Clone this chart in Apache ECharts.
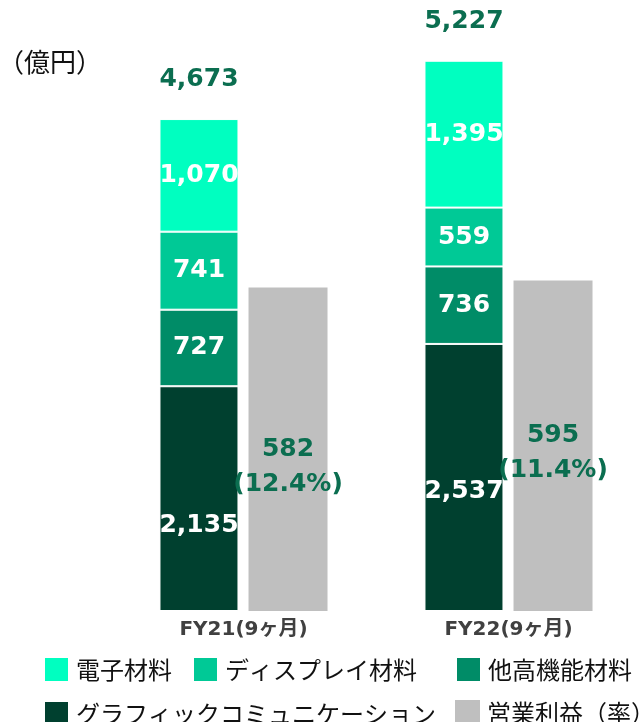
<!DOCTYPE html>
<html>
<head>
<meta charset="utf-8">
<script src="https://cdn.jsdelivr.net/npm/echarts@6/dist/echarts.min.js"></script>
<style>html,body{margin:0;padding:0;background:#fff}#c{width:641px;height:722px}</style>
</head>
<body>
<div id="c"></div>
<script>
const categories = ['FY21(9ヶ月)', 'FY22(9ヶ月)'];
const electronic = [1070, 1395];
const display = [741, 559];
const otherFunctional = [727, 736];
const graphic = [2135, 2537];
const totals = [4673, 5227];
const operatingProfit = [582, 595];
const profitRate = ['12.4%', '11.4%'];

const numFont = 'DejaVu Sans, Verdana, sans-serif';
const jpFont = 'Noto Sans CJK JP, sans-serif';
const green = '#0B6E50';
const fmt = v => v.toLocaleString('en-US');

function stackSeries(name, values, color, offsets) {
  return {
    name: name, type: 'bar', stack: 'sales', yAxisIndex: 0,
    barWidth: 79,
    itemStyle: { color: color, borderColor: '#fff', borderWidth: 1 },
    label: {
      show: true, position: 'inside', color: '#fff', fontFamily: numFont,
      fontWeight: 'bold', fontSize: 25, formatter: p => fmt(p.value)
    },
    data: values.map((v, i) => ({ value: v, label: { offset: [0, offsets ? offsets[i] : 0] } }))
  };
}

function legendRow(left, top, names, gap) {
  return {
    left: left, top: top, padding: 0, itemWidth: 25, itemHeight: 25, itemGap: gap || 10, icon: 'rect',
    textStyle: { fontFamily: jpFont, fontSize: 24, color: '#111', padding: [0, 0, 0, 2] },
    data: names
  };
}

const chart = echarts.init(document.getElementById('c'), null, { renderer: 'canvas' });
chart.setOption({
  animation: false,
  grid: { left: 111, width: 534, top: 32, bottom: 111 },
  xAxis: {
    type: 'category', data: categories,
    axisLine: { show: false }, axisTick: { show: false },
    axisLabel: { margin: 9, color: '#404040', fontFamily: numFont + ',' + jpFont, fontWeight: 'bold', fontSize: 20 }
  },
  yAxis: [
    { type: 'value', min: 0, max: 5500, show: false, splitLine: { show: false } },
    { type: 'value', min: 0, max: 1042, show: false, splitLine: { show: false } }
  ],
  legend: [
    legendRow(43, 656, ['電子材料', 'ディスプレイ材料'], 20),
    legendRow(455, 656, ['他高機能材料']),
    legendRow(43, 700, ['グラフィックコミュニケーション']),
    legendRow(455, 700, ['営業利益（率）'])
  ],
  graphic: [
    { type: 'text', left: -2, top: 49, style: { text: '（億円）', font: '26px ' + jpFont, fill: '#111' } }
  ],
  series: [
    stackSeries('グラフィックコミュニケーション', graphic, '#00402F', [27, 14]),
    stackSeries('他高機能材料', otherFunctional, '#008C67'),
    stackSeries('ディスプレイ材料', display, '#00C996'),
    stackSeries('電子材料', electronic, '#00FFC0'),
    {
      name: 'total', type: 'bar', stack: 'sales', yAxisIndex: 0, barWidth: 79,
      itemStyle: { color: 'transparent' },
      label: {
        show: true, position: 'top', distance: 27, color: green, fontFamily: numFont,
        fontWeight: 'bold', fontSize: 25, formatter: p => fmt(totals[p.dataIndex])
      },
      data: totals.map(() => 0)
    },
    {
      name: '営業利益（率）', type: 'bar', yAxisIndex: 1, barWidth: 79, barGap: '12.7%',
      itemStyle: { color: '#BFBFBF' },
      label: {
        show: true, position: 'inside', color: green, fontFamily: numFont,
        fontWeight: 'bold', fontSize: 25, lineHeight: 35,
        formatter: p => fmt(p.value) + '\n(' + profitRate[p.dataIndex] + ')'
      },
      data: operatingProfit.map((v, i) => ({ value: v, label: { offset: [0, [18, 7][i]] } }))
    }
  ]
});
</script>
</body>
</html>
